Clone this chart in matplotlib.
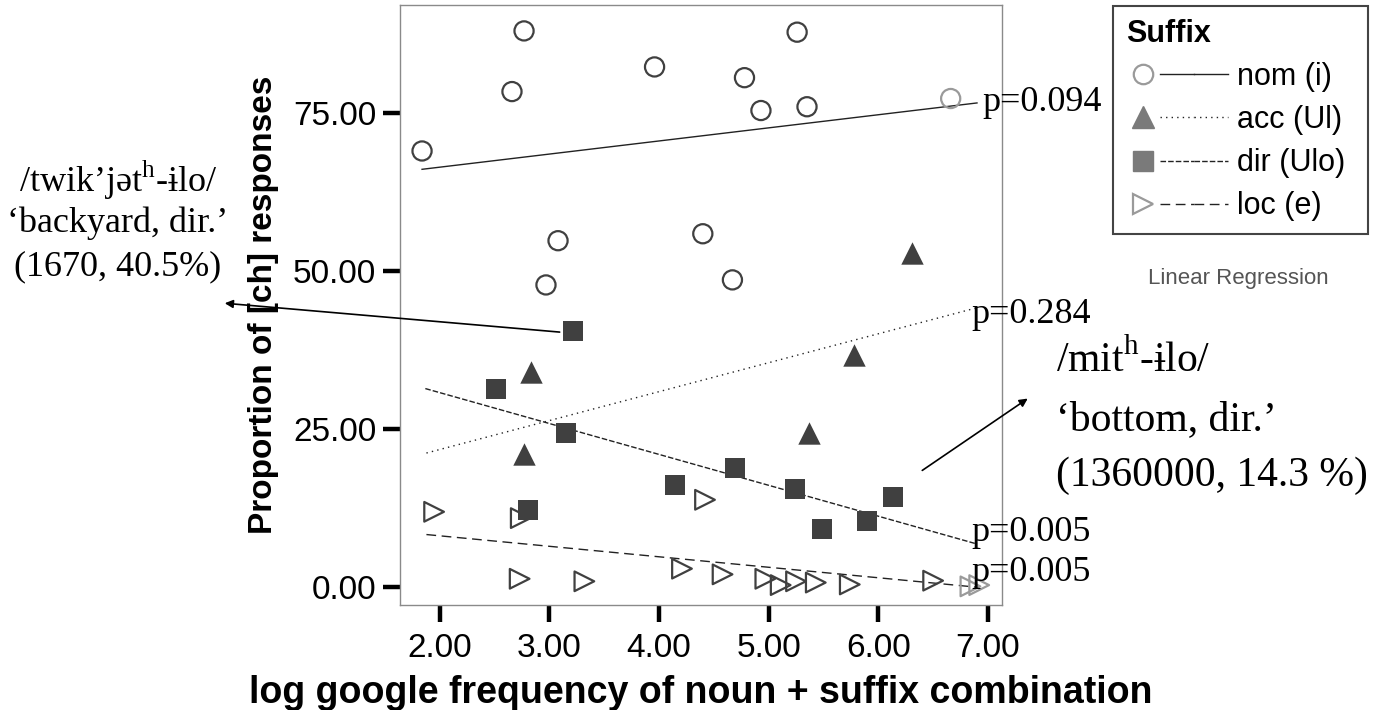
import numpy as np
import matplotlib
matplotlib.use("Agg")
import matplotlib.pyplot as plt
from matplotlib.lines import Line2D
from matplotlib.legend_handler import HandlerTuple

plt.rcParams['font.family'] = ['Liberation Sans', 'DejaVu Sans']
plt.rcParams['mathtext.fontset'] = 'custom'
plt.rcParams['mathtext.rm'] = 'Liberation Serif'

# data (x = log google frequency, y = % [ch] responses)
nom_x = [1.84, 2.77, 2.66, 3.96, 4.78, 5.26, 4.93, 5.35, 6.66, 3.08, 4.40, 2.97, 4.67]
nom_y = [69.0, 88.0, 78.4, 82.3, 80.6, 87.8, 75.4, 76.0, 77.3, 54.8, 55.9, 47.8, 48.6]
acc_x = [2.83, 2.77, 5.78, 5.37, 6.31]
acc_y = [34.1, 21.0, 36.7, 24.4, 52.8]
dir_x = [2.51, 3.22, 3.15, 2.81, 4.15, 4.69, 5.24, 5.49, 5.90, 6.13]
dir_y = [31.3, 40.5, 24.4, 12.2, 16.1, 18.9, 15.5, 9.2, 10.5, 14.3]
loc_x = [1.95, 2.74, 4.42, 2.73, 3.32, 4.21, 4.58, 4.97, 5.11, 5.25, 5.43, 5.74, 6.50, 6.84, 6.92]
loc_y = [11.9, 10.9, 13.8, 1.3, 0.9, 2.9, 2.0, 1.3, 0.3, 0.9, 0.7, 0.4, 1.0, 0.1, 0.3]

# regression line ends
nom_fit_x = [1.84, 6.90]
nom_fit_y = [66.1, 76.6]
acc_fit_x = [1.88, 6.88]
acc_fit_y = [21.2, 44.1]
dir_fit_x = [1.87, 6.88]
dir_fit_y = [31.4, 6.9]
loc_fit_x = [1.88, 6.88]
loc_fit_y = [8.3, 0.0]

p_labels = ['p=0.094', 'p=0.284', 'p=0.005', 'p=0.005']
p_y = [76.6, 43.2, 8.6, 2.3]

legend_labels = ['nom (i)', 'acc (Ul)', 'dir (Ulo)', 'loc (e)']
x_ticks = [2, 3, 4, 5, 6, 7]
y_ticks = [0, 25, 50, 75]

W, H = 1389, 710
fig = plt.figure(figsize=(W / 100, H / 100), dpi=100)
ax = fig.add_axes([400 / W, (H - 605) / H, 602 / W, 600 / H])

dark = '#404040'
grey = '#9a9a9a'


def cols(xs):
    return [grey if x > 6.6 else dark for x in xs]


ax.scatter(nom_x, nom_y, s=190, marker='o', facecolors='none',
           edgecolors=cols(nom_x), linewidths=1.6, zorder=3)
ax.scatter(acc_x, acc_y, s=260, marker='^', color=dark, linewidths=0, zorder=3)
ax.scatter(dir_x, dir_y, s=210, marker='s', color=dark, linewidths=0, zorder=3)
ax.scatter(loc_x, loc_y, s=200, marker='>', facecolors='none',
           edgecolors=cols(loc_x), linewidths=1.6, zorder=3)

styles = ['-', (0, (1, 3)), (0, (4, 1.5)), (0, (7, 4))]
fits = [(nom_fit_x, nom_fit_y), (acc_fit_x, acc_fit_y),
        (dir_fit_x, dir_fit_y), (loc_fit_x, loc_fit_y)]
for (fx, fy), ls in zip(fits, styles):
    ax.plot(fx, fy, color='#222222', lw=1.0, linestyle=ls, zorder=2)

# p-values at the right end of each line
for i, (lab, yy) in enumerate(zip(p_labels, p_y)):
    xx = 6.945 if i == 0 else 6.85
    ax.text(xx, yy, lab, family='Liberation Serif', fontsize=26,
            va='center', ha='left', clip_on=False, zorder=5)

ax.set_xlim(1.639, 7.128)
ax.set_ylim(-2.85, 92.1)
ax.set_xticks(x_ticks)
ax.set_yticks(y_ticks)
ax.xaxis.set_major_formatter(plt.FormatStrFormatter('%.2f'))
ax.yaxis.set_major_formatter(plt.FormatStrFormatter('%.2f'))
ax.tick_params(axis='both', direction='out', length=12, width=3.2,
               color='black', labelsize=24)
ax.tick_params(axis='x', pad=8)
ax.tick_params(axis='y', pad=5)
for sp in ax.spines.values():
    sp.set_color('#8a8a8a')
    sp.set_linewidth(1.0)

ax.set_xlabel('log google frequency of noun + suffix combination',
              fontsize=27, fontweight='bold', labelpad=8)
ax.set_ylabel('Proportion of [ch] responses', fontsize=24,
              fontweight='bold', labelpad=10)

# legend: marker on the left, line sample to the right
handles = []
mk = [dict(marker='o', mfc='none', mec=grey, mew=1.6, ms=14),
      dict(marker='^', mfc='#7a7a7a', mec='#7a7a7a', ms=16),
      dict(marker='s', mfc='#7a7a7a', mec='#7a7a7a', ms=14),
      dict(marker='>', mfc='none', mec=grey, mew=1.6, ms=15)]
for m, ls in zip(mk, styles):
    h_m = Line2D([], [], linestyle='none', **m)
    h_l = Line2D([], [], color='#222222', lw=1.0, linestyle=ls)
    handles.append((h_m, h_l, h_l))
leg = fig.legend(handles, legend_labels,
                 handler_map={tuple: HandlerTuple(ndivide=None, pad=0)},
                 loc='upper left', mode='expand',
                 bbox_to_anchor=(1113 / W, 1 - 233 / H, 255 / W, 227 / H),
                 borderaxespad=0, fontsize=22, title='Suffix',
                 title_fontproperties={'weight': 'bold', 'size': 22},
                 alignment='left', handlelength=3.35, handletextpad=0.3,
                 labelspacing=0.43, borderpad=0.42, fancybox=False,
                 edgecolor='#444444', framealpha=1)
leg.get_frame().set_linewidth(1.5)

fig.text(1238 / W, 1 - 279 / H, 'Linear Regression', fontsize=16,
         color='#555555', ha='center', va='center')

# annotations
serif = ['Liberation Serif', 'DejaVu Serif']
left_lines = ['/twik\u2019j\u0259t$^{\\mathrm{h}}$-\u0268lo/',
              '\u2018backyard, dir.\u2019', '(1670, 40.5%)']
for txt, py in zip(left_lines, [180, 223, 267]):
    fig.text(118 / W, 1 - py / H, txt, family=serif, fontsize=26,
             ha='center', va='center')

right_lines = ['/mit$^{\\mathrm{h}}$-\u0268lo/',
               '\u2018bottom, dir.\u2019', '(1360000, 14.3 %)']
for txt, py in zip(right_lines, [360, 420, 476]):
    fig.text(1056 / W, 1 - py / H, txt, family=serif, fontsize=30,
             ha='left', va='center')

arrow = dict(arrowstyle='-|>', color='black', lw=1.2, mutation_scale=12)
ax.annotate('', xy=(222, H - 303), xycoords='figure pixels',
            xytext=(3.12, 40.3), textcoords='data', arrowprops=arrow)
ax.annotate('', xy=(1030, H - 397), xycoords='figure pixels',
            xytext=(6.38, 18.2), textcoords='data', arrowprops=arrow)

fig.savefig('out.png', dpi=100)
